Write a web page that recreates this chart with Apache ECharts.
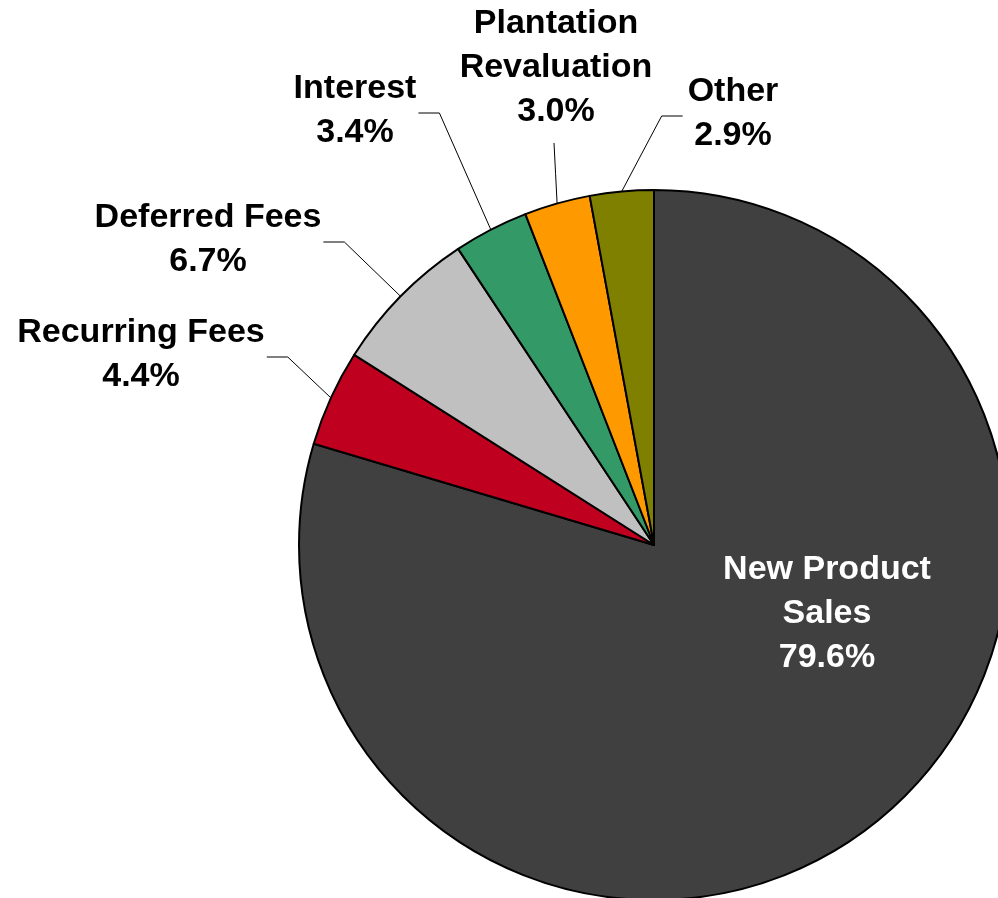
<!DOCTYPE html>
<html>
<head>
<meta charset="utf-8">
<title>Revenue Mix</title>
<style>
  html, body { margin: 0; padding: 0; background: #ffffff; }
  #chart { width: 998px; height: 898px; }
</style>
<script src="https://cdn.jsdelivr.net/npm/echarts@6/dist/echarts.min.js"></script>
</head>
<body>
<div id="chart"></div>
<script>
// Revenue breakdown, percent of total
const categories = ['New Product\nSales', 'Recurring Fees', 'Deferred Fees', 'Interest', 'Plantation\nRevaluation', 'Other'];
const shares = [79.6, 4.4, 6.7, 3.4, 3.0, 2.9];

const sliceColors = ['#404040', '#C0001F', '#C0C0C0', '#339966', '#FF9900', '#808000'];

// Where each label block is centred, and the side of the block its leader line attaches to
const labelSpots = [
  { x: 827, y: 614, side: 'inside' },
  { x: 141, y: 355, side: 'right' },
  { x: 208, y: 240, side: 'right' },
  { x: 355, y: 111, side: 'right' },
  { x: 556, y: 68,  side: 'bottom' },
  { x: 733, y: 114, side: 'left' }
];

const FONT = '"Liberation Sans", Arial, Helvetica, sans-serif';

const pieData = categories.map(function (name, i) {
  const inside = labelSpots[i].side === 'inside';
  return {
    name: name,
    value: shares[i],
    itemStyle: { color: sliceColors[i] },
    label: {
      position: inside ? 'inside' : 'outside',
      color: inside ? '#ffffff' : '#000000'
    },
    labelLine: { show: !inside }
  };
});

const chart = echarts.init(document.getElementById('chart'), null, { renderer: 'canvas' });

chart.setOption({
  backgroundColor: '#ffffff',
  animation: false,
  series: [{
    type: 'pie',
    center: [654, 545],
    radius: 355,
    startAngle: 90,
    clockwise: true,
    avoidLabelOverlap: false,
    data: pieData,
    itemStyle: { borderColor: '#000000', borderWidth: 2 },
    emphasis: { disabled: true },
    label: {
      show: true,
      fontFamily: FONT,
      fontWeight: 'bold',
      fontSize: 34,
      lineHeight: 44,
      formatter: function (p) {
        return p.name + '\n' + p.value.toFixed(1) + '%';
      }
    },
    labelLine: {
      show: true,
      length: 20,
      length2: 20,
      lineStyle: { color: '#000000', width: 1 }
    },
    labelLayout: function (p) {
      const spot = labelSpots[p.dataIndex];
      const out = { x: spot.x, y: spot.y, align: 'center', verticalAlign: 'middle' };
      const pts = p.labelLinePoints;
      if (spot.side !== 'inside' && pts && pts.length) {
        const start = pts[0];
        const w = p.labelRect.width;
        const h = p.labelRect.height;
        let end, knee;
        if (spot.side === 'right') {
          end = [spot.x + w / 2 + 2, spot.y + 2];
          knee = [end[0] + 21, end[1]];
        } else if (spot.side === 'left') {
          end = [spot.x - w / 2 - 5, spot.y + 2];
          knee = [end[0] - 21, end[1]];
        } else {
          end = [spot.x - 2, spot.y + h / 2 + 9];
          knee = [(start[0] + end[0]) / 2, (start[1] + end[1]) / 2];
        }
        out.labelLinePoints = [start, knee, end];
      }
      return out;
    }
  }]
});
</script>
</body>
</html>
